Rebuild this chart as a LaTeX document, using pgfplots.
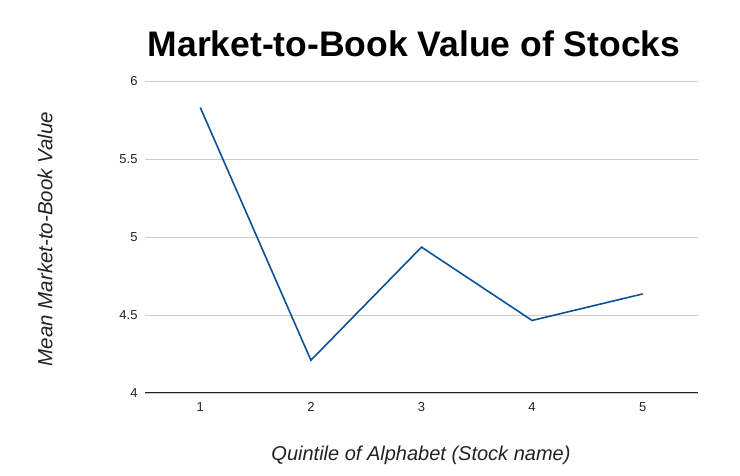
\documentclass[border=0pt]{standalone}
\usepackage{pgfplots}
\pgfplotsset{compat=1.18}
\usepackage{fontspec}
\setmainfont{Liberation Sans}
\definecolor{linecol}{HTML}{0B5394}
\definecolor{gridcol}{HTML}{CCCCCC}
\definecolor{txtcol}{HTML}{222222}
\begin{document}
\begin{tikzpicture}[x=1bp,y=1bp]
\useasboundingbox (0,0) rectangle (740,476);
\begin{axis}[
  at={(145bp,83bp)}, anchor=south west,
  scale only axis, width=553bp, height=312bp,
  xmin=0.5, xmax=5.5, ymin=4, ymax=6,
  xtick={1,2,3,4,5}, ytick={4,4.5,5,5.5,6},
  axis line style={draw=none},
  ymajorgrids, grid style={gridcol, line width=0.8bp},
  major tick length=0pt,
  tick label style={font=\fontsize{13bp}{15bp}\selectfont, text=txtcol},
  /pgf/number format/assume math mode=true,
  yticklabel style={xshift=-4bp},
  xticklabel style={yshift=-6bp},
  clip=false,
]
\addplot[draw=txtcol, line width=1bp, forget plot] coordinates {(0.5,4) (5.5,4)};
\addplot[linecol, line width=1.6bp, mark=none] coordinates {
(1,5.83) (2,4.21) (3,4.935) (4,4.465) (5,4.635)
};
\end{axis}
\node[font=\fontsize{35.5bp}{40bp}\selectfont\bfseries, anchor=center] at (414,432) {Market-to-Book Value of Stocks};
\node[font=\fontsize{20.5bp}{22bp}\selectfont\itshape, text=txtcol, rotate=90, anchor=center] at (45,237) {Mean Market-to-Book Value};
\node[font=\fontsize{20bp}{22bp}\selectfont\itshape, text=txtcol, anchor=center] at (421,21) {Quintile of Alphabet (Stock name)};
\end{tikzpicture}
\end{document}
